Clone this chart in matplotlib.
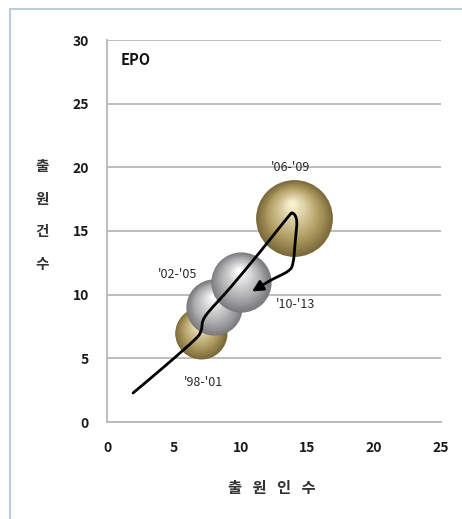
import numpy as np
import matplotlib
matplotlib.use("Agg")
import matplotlib.pyplot as plt
from matplotlib import transforms
from matplotlib.lines import Line2D
from matplotlib.path import Path
from matplotlib.patches import FancyArrowPatch
from matplotlib.colors import to_rgb

plt.rcParams['font.family'] = ['Noto Sans CJK KR', 'DejaVu Sans']

# Period bubbles: applicants (x), applications (y), bubble size
periods = ["'98-'01", "'02-'05", "'06-'09", "'10-'13"]
applicants = [7, 8, 14, 10]
applications = [7, 9, 16, 11]
bubble_size = [7, 8.2, 15.3, 9.4]
bubble_kind = ["gold", "silver", "gold", "silver"]

# Trend arrow drawn over the bubbles (waypoints in data units)
trend_x = [1.95, 4.4, 6.6, 7.05, 7.35, 9.21, 11.45, 13.47, 13.9, 14.2, 14.1, 13.92, 13.55, 12.2, 10.85]
trend_y = [2.28, 4.45, 6.5, 7.2, 8.3, 10.53, 13.35, 16.0, 16.4, 15.8, 14.3, 12.5, 11.85, 11.1, 10.25]

# Label positions for each period
label_x = [7.2, 5.3, 13.75, 14.1]
label_y = [3.1, 11.6, 20.0, 9.2]

x_ticks = [0, 5, 10, 15, 20, 25]
y_ticks = [0, 5, 10, 15, 20, 25, 30]

W, H = 462, 519
fig = plt.figure(figsize=(W / 100, H / 100), dpi=100)
fig.patch.set_facecolor('white')

# outer frame (top and left edges)
frame_col = '#bccbdc'
fig.lines.append(Line2D([10 / W, 10 / W], [0, 1 - 9 / H], transform=fig.transFigure,
                        color=frame_col, linewidth=1.4))
fig.lines.append(Line2D([10 / W, 1], [1 - 9 / H, 1 - 9 / H], transform=fig.transFigure,
                        color=frame_col, linewidth=1.4))

ax = fig.add_axes([107 / W, (H - 422) / H, 334 / W, 382 / H])
ax.set_xlim(0, 25)
ax.set_ylim(0, 30)
ax.set_xticks(x_ticks)
ax.set_yticks(y_ticks)
ax.tick_params(length=0, labelsize=10, colors='#1a1a1a')
ax.tick_params(axis='y', pad=13)
ax.tick_params(axis='x', pad=14)
for lab in ax.get_xticklabels() + ax.get_yticklabels():
    lab.set_fontweight('bold')
ax.grid(axis='y', color='#b8b8b8', linewidth=1.3)
ax.set_axisbelow(True)
for s in ['top', 'right']:
    ax.spines[s].set_visible(False)
for s in ['left', 'bottom']:
    ax.spines[s].set_color('#b8b8b8')
    ax.spines[s].set_linewidth(1.3)

palettes = {
    'gold': ('#7a6a3a', '#b09d62', '#f8f1cf'),
    'silver': ('#7a7a7c', '#adadaf', '#fbfbfb'),
}

def lerp(c1, c2, t):
    a, b = np.array(to_rgb(c1)), np.array(to_rgb(c2))
    return tuple(a + (b - a) * t)

scale = 200.0
for i in range(len(periods)):
    edge, mid, hi = palettes[bubble_kind[i]]
    s0 = bubble_size[i] * scale
    r_pt = np.sqrt(s0) / 2
    n = 30
    for k in range(n):
        t = k / (n - 1)
        f = 1 - 0.92 * t
        if t < 0.35:
            col = lerp(edge, mid, t / 0.35)
        else:
            col = lerp(mid, hi, (t - 0.35) / 0.65)
        dx = -0.05 * r_pt * t
        dy = 0.38 * r_pt * t
        tr = transforms.offset_copy(ax.transData, fig=fig, x=dx, y=dy, units='points')
        ax.scatter([applicants[i]], [applications[i]], s=s0 * f * f, color=col,
                   linewidths=0, transform=tr, zorder=3 + i)

# smooth trend curve (Catmull-Rom segments as cubic Bezier) ending in an arrow head
pts = np.column_stack([trend_x, trend_y])
verts = [pts[0]]
codes = [Path.MOVETO]
for j in range(len(pts) - 1):
    p0 = pts[max(j - 1, 0)]
    p1 = pts[j]
    p2 = pts[j + 1]
    p3 = pts[min(j + 2, len(pts) - 1)]
    verts += [p1 + (p2 - p0) / 6, p2 - (p3 - p1) / 6, p2]
    codes += [Path.CURVE4] * 3
trend_path = Path(verts, codes)
ax.add_patch(FancyArrowPatch(path=trend_path, arrowstyle='-|>', mutation_scale=16,
                             color='black', linewidth=2.0, zorder=10,
                             transform=ax.transData))

for i, p in enumerate(periods):
    ax.text(label_x[i], label_y[i], p, ha='center', va='center', fontsize=9,
            color='#2a2a2a', zorder=12)

ax.text(1.0, 28.4, 'EPO', ha='left', va='center', fontsize=10.5, fontweight='bold',
        color='#111111')

fig.text(42 / W, 1 - 215 / H, '출\n원\n건\n수', ha='center', va='center',
         fontsize=10.5, fontweight='bold', color='#333333', linespacing=2.3)
fig.text(272 / W, 1 - 488 / H, '출   원   인   수', ha='center', va='center',
         fontsize=11, fontweight='bold', color='#333333')

fig.savefig('out.png', dpi=100)
